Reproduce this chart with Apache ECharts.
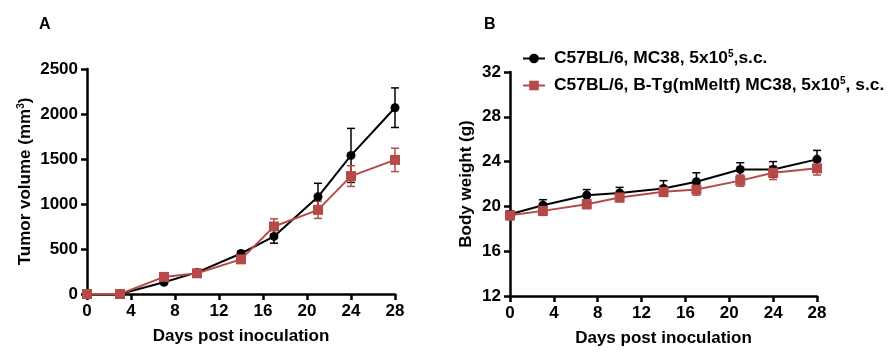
<!DOCTYPE html>
<html><head><meta charset="utf-8">
<script src="https://cdn.jsdelivr.net/npm/echarts@6/dist/echarts.min.js"></script>
<style>html,body{margin:0;padding:0;background:#fff}#c{width:893px;height:358px}</style>
</head><body><div id="c"></div>
<script>
const days = [0, 3, 7, 10, 14, 17, 21, 24, 28];
const tumorBlack = [0, 0, 130, 240, 450, 640, 1080, 1540, 2070];
const tumorBlackErr = [0, 0, 15, 20, 25, 75, 150, 300, 220];
const tumorRed = [0, 0, 190, 230, 385, 750, 935, 1310, 1490];
const tumorRedErr = [0, 0, 20, 25, 30, 85, 95, 115, 130];
const weightBlack = [19.3, 20.1, 21.0, 21.2, 21.6, 22.2, 23.3, 23.3, 24.2];
const weightBlackErr = [0.3, 0.5, 0.5, 0.5, 0.7, 0.8, 0.6, 0.7, 0.8];
const weightRed = [19.2, 19.6, 20.2, 20.8, 21.3, 21.5, 22.3, 23.0, 23.4];
const weightRedErr = [0.4, 0.4, 0.4, 0.4, 0.4, 0.5, 0.5, 0.6, 0.6];
const seriesNames = ['C57BL/6, MC38, 5x10{sup|5},s.c.', 'C57BL/6, B-Tg(mMeltf) MC38, 5x10{sup|5}, s.c.'];
const BLACK = '#000000', RED = '#B54A48';
const FONT = 'Liberation Sans';

const chart = echarts.init(document.getElementById('c'));
const pts = (ys) => days.map((d, i) => [d, ys[i]]);
const errData = (ys, es) => days.map((d, i) => [d, ys[i] - es[i], ys[i] + es[i]]);
function errSeries(ys, es, color, idx, z) {
  return {
    type: 'custom', xAxisIndex: idx, yAxisIndex: idx, z: z, silent: true,
    data: errData(ys, es),
    renderItem: function (params, api) {
      const x = api.value(0);
      const lo = api.coord([x, api.value(1)]);
      const hi = api.coord([x, api.value(2)]);
      const w = 4;
      const st = { stroke: color, lineWidth: 1.5 };
      return { type: 'group', children: [
        { type: 'line', shape: { x1: lo[0], y1: lo[1], x2: hi[0], y2: hi[1] }, style: st },
        { type: 'line', shape: { x1: hi[0] - w, y1: hi[1], x2: hi[0] + w, y2: hi[1] }, style: st },
        { type: 'line', shape: { x1: lo[0] - w, y1: lo[1], x2: lo[0] + w, y2: lo[1] }, style: st }
      ]};
    }
  };
}
const supStyle = { fontSize: 10, fontFamily: FONT, fontWeight: 'bold', color: '#000', padding: [0, 0, 9, 0] };
const axisLineStyle = { lineStyle: { color: '#000', width: 2.5 } };
const tickStyle = { show: true, length: 6, inside: false, lineStyle: { color: '#000', width: 2.5 } };
const labelStyle = { color: '#000', fontFamily: FONT, fontWeight: 'bold', fontSize: 17, formatter: (v) => String(v) };
const nameStyle = { color: '#000', fontFamily: FONT, fontWeight: 'bold', fontSize: 17, rich: { sup: supStyle } };
function xAxis(idx) {
  return { type: 'value', gridIndex: idx, min: 0, max: 28, interval: 4,
    axisLine: axisLineStyle, axisTick: tickStyle, splitLine: { show: false },
    axisLabel: Object.assign({ margin: 9 }, labelStyle),
    name: 'Days post inoculation', nameLocation: 'middle', nameGap: 34, nameTextStyle: nameStyle };
}
function line(name, ys, color, symbol, size, idx, z) {
  return { type: 'line', name: name, xAxisIndex: idx, yAxisIndex: idx, data: pts(ys), z: z,
    symbol: symbol, symbolSize: size, showSymbol: true,
    lineStyle: { color: color, width: 2 }, itemStyle: { color: color, opacity: 1 } };
}
chart.setOption({
  animation: false,
  textStyle: { fontFamily: FONT },
  title: [
    { text: 'A', left: 34, top: 12, textStyle: { fontFamily: FONT, fontWeight: 'bold', fontSize: 16, color: '#000' } },
    { text: 'B', left: 479, top: 12, textStyle: { fontFamily: FONT, fontWeight: 'bold', fontSize: 16, color: '#000' } }
  ],
  legend: {
    left: 517, top: 44, orient: 'vertical', itemGap: 9, itemWidth: 22, itemHeight: 12,
    data: seriesNames,
    textStyle: { color: '#000', fontFamily: FONT, fontWeight: 'bold', fontSize: 17.4, padding: [0, 0, 0, 4],
      rich: { sup: supStyle } }
  },
  grid: [
    { left: 87, right: 498, top: 69, bottom: 64 },
    { left: 510, right: 76, top: 72, bottom: 62 }
  ],
  xAxis: [xAxis(0), xAxis(1)],
  yAxis: [
    { type: 'value', gridIndex: 0, min: 0, max: 2500, interval: 500,
      axisLine: Object.assign({ show: true }, axisLineStyle), axisTick: tickStyle, splitLine: { show: false },
      axisLabel: Object.assign({ margin: 9 }, labelStyle),
      name: 'Tumor volume (mm{sup|3})', nameLocation: 'middle', nameGap: 52, nameRotate: 90, nameTextStyle: nameStyle },
    { type: 'value', gridIndex: 1, min: 12, max: 32, interval: 4,
      axisLine: Object.assign({ show: true }, axisLineStyle), axisTick: tickStyle, splitLine: { show: false },
      axisLabel: Object.assign({ margin: 9 }, labelStyle),
      name: 'Body weight (g)', nameLocation: 'middle', nameGap: 35, nameRotate: 90, nameTextStyle: nameStyle }
  ],
  series: [
    errSeries(tumorBlack, tumorBlackErr, BLACK, 0, 1),
    errSeries(tumorRed, tumorRedErr, RED, 0, 1),
    line(seriesNames[0], tumorBlack, BLACK, 'circle', 9, 0, 2),
    line(seriesNames[1], tumorRed, RED, 'rect', 10, 0, 3),
    errSeries(weightBlack, weightBlackErr, BLACK, 1, 1),
    errSeries(weightRed, weightRedErr, RED, 1, 1),
    line(seriesNames[0], weightBlack, BLACK, 'circle', 9, 1, 2),
    line(seriesNames[1], weightRed, RED, 'rect', 10, 1, 3)
  ]
});
</script></body></html>
